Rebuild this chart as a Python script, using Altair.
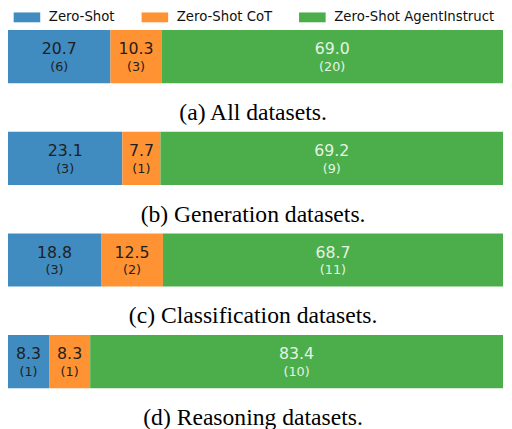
import altair as alt
import pandas as pd

groups = ["(a) All datasets.", "(b) Generation datasets.",
          "(c) Classification datasets.", "(d) Reasoning datasets."]
series_names = ["Zero-Shot", "Zero-Shot CoT", "Zero-Shot AgentInstruct"]
zero_shot = [20.7, 23.1, 18.8, 8.3]
zero_shot_n = [6, 3, 3, 1]
cot = [10.3, 7.7, 12.5, 8.3]
cot_n = [3, 1, 2, 1]
agent = [69.0, 69.2, 68.7, 83.4]
agent_n = [20, 9, 11, 10]
colors = ["#408BBF", "#FF9232", "#4BAE4B"]

rows = []
for gi, g in enumerate(groups):
    for si, (vals, cnts) in enumerate([(zero_shot, zero_shot_n), (cot, cot_n), (agent, agent_n)]):
        rows.append({
            "group": g,
            "series": series_names[si],
            "order": si,
            "value": vals[gi],
            "vlabel": f"{vals[gi]:.1f}",
            "nlabel": f"({cnts[gi]})",
        })
df = pd.DataFrame(rows)
cap_df = pd.DataFrame({"group": groups})

yenc = alt.Y("group:N", sort=groups, axis=None,
             scale=alt.Scale(paddingInner=0.4774, paddingOuter=0))

base = alt.Chart(df).transform_stack(
    stack="value", groupby=["group"], sort=[alt.SortField("order")], as_=["x0", "x1"]
).transform_calculate(mid="(datum.x0 + datum.x1) / 2")

xscale = alt.Scale(domain=[0, 100], nice=False, zero=False)

bars = base.mark_bar(strokeWidth=0).encode(
    x=alt.X("x0:Q", scale=xscale, axis=None),
    x2="x1:Q",
    y=yenc,
    color=alt.Color(
        "series:N",
        sort=series_names,
        scale=alt.Scale(domain=series_names, range=colors),
        legend=alt.Legend(
            title=None,
            orient="none",
            legendX=4,
            legendY=-20,
            direction="horizontal",
            symbolType="M-1,-1L4.4,-1L4.4,1L-1,1Z",
            symbolSize=100,
            symbolStrokeWidth=0,
            symbolOpacity=1,
            labelFont="DejaVu Sans",
            labelFontSize=13.5,
            labelColor="#111111",
            labelOffset=24,
            labelLimit=400,
            columnPadding=25,
        ),
    ),
)

txt_color = alt.condition("datum.series == 'Zero-Shot AgentInstruct'",
                          alt.value("#E4F3E4"), alt.value("#1f1f1f"))

vals_txt = base.mark_text(font="DejaVu Sans", fontSize=16, dy=-7.5, baseline="middle").encode(
    x=alt.X("mid:Q", scale=xscale), y=yenc, text="vlabel:N", color=txt_color)

cnt_txt = base.mark_text(font="DejaVu Sans", fontSize=13, dy=10.5, baseline="middle").encode(
    x=alt.X("mid:Q", scale=xscale), y=yenc, text="nlabel:N", color=txt_color)

caps = alt.Chart(cap_df).mark_text(
    font="Liberation Serif", fontSize=24, dy=57.5, baseline="middle", color="#000000"
).encode(x=alt.value(249), y=yenc, text="group:N")

chart = alt.layer(bars, vals_txt, cnt_txt, caps).properties(
    width=503, height=364,
    padding={"left": 0, "top": 19, "right": 1, "bottom": 38},
    autosize=alt.AutoSizeParams(type="none"),
).configure_view(strokeWidth=0)

chart.save("out.html", embed_options={"renderer": "svg", "actions": False})
